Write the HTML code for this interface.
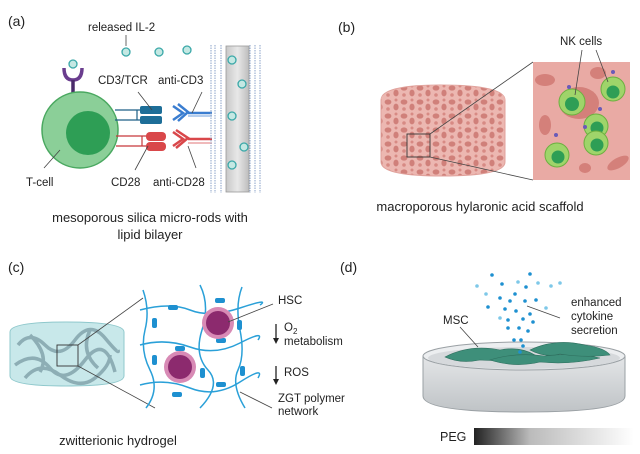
<!DOCTYPE html>
<html><head><style>
html,body{margin:0;padding:0;background:#fff}
svg{display:block}
text{font-family:"Liberation Sans",sans-serif;fill:#222}
</style></head><body>
<svg width="640" height="454" viewBox="0 0 640 454" xmlns="http://www.w3.org/2000/svg">
<defs>
<linearGradient id="peg" x1="0" x2="1"><stop offset="0" stop-color="#222"/><stop offset="0.35" stop-color="#bbb"/><stop offset="1" stop-color="#fff"/></linearGradient>
<linearGradient id="dish" x1="0" x2="0" y1="0" y2="1"><stop offset="0" stop-color="#e4e6e8"/><stop offset="1" stop-color="#bfc3c6"/></linearGradient>
<linearGradient id="rod" x1="0" x2="1"><stop offset="0" stop-color="#c8c8c8"/><stop offset="0.5" stop-color="#e8e8e8"/><stop offset="1" stop-color="#bdbdbd"/></linearGradient>
<pattern id="pores" width="16" height="14" patternUnits="userSpaceOnUse">
<rect width="16" height="14" fill="#ecb7b1"/>
<ellipse cx="4" cy="4" rx="3.4" ry="2.6" fill="#d0807a"/>
<ellipse cx="12" cy="9" rx="2.6" ry="3.4" fill="#d0807a"/>
<circle cx="4" cy="11" r="1.8" fill="#d78a84"/>
<circle cx="12" cy="2" r="1.5" fill="#d78a84"/>
</pattern>
</defs>

<!-- Panel a -->
<text x="8" y="26" font-size="14">(a)</text>
<text x="88" y="31" font-size="11.5">released IL-2</text>
<line x1="126" y1="35" x2="126" y2="46" stroke="#444" stroke-width="0.8"/>
<g fill="#c4e8e3" stroke="#3aa8a8" stroke-width="1.3">
<circle cx="126" cy="52" r="4"/><circle cx="159" cy="52" r="4"/><circle cx="187" cy="50" r="4"/>
<circle cx="73" cy="64" r="4"/>
</g>
<path d="M64 68 Q64 80 73 80 Q82 80 82 68" fill="none" stroke="#6a3d8e" stroke-width="3.5"/>
<line x1="73" y1="80" x2="73" y2="100" stroke="#4a2a6a" stroke-width="3.5"/>
<circle cx="80" cy="130" r="38" fill="#8bcf98" stroke="#4aa860" stroke-width="1.5"/>
<circle cx="88" cy="133" r="22" fill="#2e9e55"/>
<g stroke="#1d5f86" stroke-width="1.2" fill="none">
<line x1="115" y1="110" x2="140" y2="110"/><line x1="115" y1="120" x2="140" y2="120"/><line x1="137" y1="110" x2="137" y2="120"/>
</g>
<rect x="140" y="106" width="22" height="8" rx="2" fill="#1d6e98"/>
<rect x="140" y="116" width="22" height="8" rx="2" fill="#1d6e98"/>
<g stroke="#3a7dd0" stroke-width="2.5" fill="none">
<path d="M173 106 L183 113 L173 120"/><path d="M178 104 L188 112 L178 121"/>
<line x1="188" y1="113" x2="212" y2="113"/>
</g>
<line x1="188" y1="116" x2="212" y2="116" stroke="#3a7dd0" stroke-width="0.8"/>
<g stroke="#c8373a" stroke-width="1.2" fill="none">
<line x1="116" y1="136" x2="147" y2="136"/><line x1="116" y1="146" x2="147" y2="146"/><line x1="142" y1="136" x2="142" y2="146"/>
</g>
<rect x="146" y="132" width="20" height="9" rx="4" fill="#d9474a"/>
<rect x="146" y="142" width="20" height="9" rx="4" fill="#d9474a"/>
<g stroke="#d9474a" stroke-width="2.5" fill="none">
<path d="M173 132 L183 139 L173 146"/><path d="M176 130 L188 138 L176 148"/>
<line x1="188" y1="139" x2="212" y2="139"/>
</g>
<line x1="188" y1="143" x2="212" y2="143" stroke="#d9474a" stroke-width="0.8"/>
<g stroke="#8aa2c8" stroke-width="1" stroke-dasharray="1.5 1">
<line x1="211" y1="45" x2="211" y2="193"/><line x1="215" y1="45" x2="215" y2="193"/><line x1="221" y1="45" x2="221" y2="193"/>
<line x1="250" y1="45" x2="250" y2="193"/><line x1="255" y1="45" x2="255" y2="193"/><line x1="260" y1="45" x2="260" y2="193"/>
</g>
<rect x="226" y="46" width="23" height="146" fill="url(#rod)" stroke="#9a9a9a" stroke-width="0.8"/>
<g fill="#c4e8e3" stroke="#3aa8a8" stroke-width="1.3">
<circle cx="232" cy="60" r="4"/><circle cx="242" cy="84" r="4"/><circle cx="232" cy="116" r="4"/><circle cx="244" cy="147" r="4"/><circle cx="232" cy="165" r="4"/>
</g>
<g stroke="#444" stroke-width="0.8">
<line x1="138" y1="92" x2="152" y2="110"/><line x1="202" y1="92" x2="192" y2="113"/>
<line x1="60" y1="150" x2="44" y2="168"/><line x1="148" y1="146" x2="135" y2="170"/><line x1="188" y1="146" x2="196" y2="168"/>
</g>
<text x="98" y="84" font-size="11.5">CD3/TCR</text>
<text x="158" y="84" font-size="11.5">anti-CD3</text>
<text x="26" y="186" font-size="11.5">T-cell</text>
<text x="111" y="186" font-size="11.5">CD28</text>
<text x="153" y="186" font-size="11.5">anti-CD28</text>
<text x="150" y="222" font-size="13" text-anchor="middle">mesoporous silica micro-rods with</text>
<text x="150" y="239" font-size="13" text-anchor="middle">lipid bilayer</text>

<!-- Panel b -->
<text x="338" y="32" font-size="14">(b)</text>
<path d="M381 100 Q381 85 440 85 Q505 85 505 100 L505 162 Q505 176 442 176 Q381 176 381 162 Z" fill="url(#pores)" stroke="#e0a29c" stroke-width="1"/>
<ellipse cx="443" cy="99" rx="62" ry="14" fill="url(#pores)" opacity="0.9"/>
<rect x="407" y="134" width="23" height="23" fill="none" stroke="#333" stroke-width="0.9"/>
<line x1="430" y1="134" x2="533" y2="62" stroke="#444" stroke-width="0.8"/>
<line x1="430" y1="157" x2="533" y2="180" stroke="#444" stroke-width="0.8"/>
<rect x="533" y="62" width="97" height="118" fill="#e9aaa4"/>
<g fill="#d4807a">
<ellipse cx="545" cy="80" rx="10" ry="6"/><ellipse cx="598" cy="73" rx="8" ry="6"/><ellipse cx="545" cy="125" rx="6" ry="10"/>
<ellipse cx="618" cy="163" rx="12" ry="5" transform="rotate(-30 618 163)"/><ellipse cx="585" cy="168" rx="6" ry="5"/>
</g>
<g>
<ellipse cx="579" cy="103" rx="20" ry="16" fill="#d4807a"/>
<circle cx="572" cy="102" r="13" fill="#9fd46a" stroke="#6cb040" stroke-width="1"/><circle cx="572" cy="104" r="7" fill="#2e9e55"/>
<circle cx="613" cy="89" r="12" fill="#9fd46a" stroke="#6cb040"/><circle cx="613" cy="92" r="6.5" fill="#2e9e55"/>
<circle cx="596" cy="126" r="12" fill="#9fd46a" stroke="#6cb040"/><circle cx="597" cy="128" r="6.5" fill="#2e9e55"/>
<circle cx="596" cy="143" r="12" fill="#9fd46a" stroke="#6cb040"/><circle cx="597" cy="145" r="6.5" fill="#2e9e55"/>
<circle cx="557" cy="155" r="12" fill="#9fd46a" stroke="#6cb040"/><circle cx="558" cy="157" r="6.5" fill="#2e9e55"/>
</g>
<g fill="#6a5ab8"><circle cx="569" cy="87" r="2"/><circle cx="613" cy="72" r="2"/><circle cx="600" cy="109" r="2"/><circle cx="585" cy="127" r="2"/><circle cx="556" cy="135" r="2"/></g>
<g stroke="#444" stroke-width="0.8">
<line x1="582" y1="50" x2="575" y2="95"/><line x1="596" y1="50" x2="608" y2="82"/>
</g>
<text x="560" y="45" font-size="11.5">NK cells</text>
<text x="480" y="211" font-size="13" text-anchor="middle">macroporous hylaronic acid scaffold</text>

<!-- Panel c -->
<text x="8" y="272" font-size="14">(c)</text>
<path d="M10 332 Q10 322 66 322 Q124 322 124 332 L124 376 Q124 386 66 386 Q10 386 10 376 Z" fill="#c8e8ea" stroke="#8fc8cc" stroke-width="1"/>
<g fill="none" stroke="#7fa0a8" stroke-width="3.5" opacity="0.8">
<path d="M18 345 Q30 330 45 345 T75 340 T105 338 T118 350"/>
<path d="M15 365 Q35 350 50 368 T85 360 T115 372"/>
<path d="M25 378 Q40 360 60 375 T95 378 T110 355"/>
<path d="M30 335 Q50 355 40 372"/><path d="M90 330 Q80 352 98 368"/>
</g>
<rect x="57" y="345" width="21" height="21" fill="none" stroke="#333" stroke-width="0.9"/>
<line x1="78" y1="345" x2="143" y2="298" stroke="#444" stroke-width="0.8"/>
<line x1="78" y1="366" x2="155" y2="408" stroke="#444" stroke-width="0.8"/>
<g fill="none" stroke="#2aa0d8" stroke-width="1.5">
<path d="M140 310 Q170 302 190 310 T240 308 T260 305"/>
<path d="M140 345 Q165 338 190 347 T240 343 T258 340"/>
<path d="M140 385 Q165 378 190 388 T240 382 T258 378"/>
<path d="M143 290 Q150 310 145 330 T150 370 T146 408"/>
<path d="M200 285 Q210 305 202 330 T208 370 T200 408"/>
<path d="M242 287 Q235 305 240 330 T238 370 T245 408"/>
</g>
<g fill="#1e90d0">
<rect x="168" y="305" width="10" height="5" rx="2"/><rect x="215" y="298" width="10" height="5" rx="2"/>
<rect x="152" y="318" width="5" height="10" rx="2"/><rect x="237" y="320" width="5" height="10" rx="2"/>
<rect x="175" y="346" width="10" height="5" rx="2"/><rect x="216" y="338" width="10" height="5" rx="2"/>
<rect x="200" y="368" width="5" height="10" rx="2"/><rect x="240" y="366" width="5" height="10" rx="2"/>
<rect x="172" y="392" width="10" height="5" rx="2"/><rect x="216" y="382" width="10" height="5" rx="2"/>
<rect x="152" y="355" width="5" height="10" rx="2"/>
</g>
<circle cx="218" cy="323" r="16" fill="#d88ab5"/><circle cx="218" cy="323" r="12" fill="#8c2a6e"/>
<circle cx="180" cy="367" r="16" fill="#d88ab5"/><circle cx="180" cy="367" r="12" fill="#8c2a6e"/>
<line x1="228" y1="322" x2="273" y2="304" stroke="#444" stroke-width="0.8"/>
<line x1="240" y1="392" x2="272" y2="408" stroke="#444" stroke-width="0.8"/>
<text x="278" y="304" font-size="11.5">HSC</text>
<line x1="276" y1="324" x2="276" y2="340" stroke="#222" stroke-width="1.3"/><path d="M273 338 L279 338 L276 344 Z" fill="#222"/>
<text x="284" y="331" font-size="11.5">O<tspan font-size="8" dy="3">2</tspan></text>
<text x="284" y="345" font-size="11.5">metabolism</text>
<line x1="276" y1="366" x2="276" y2="381" stroke="#222" stroke-width="1.3"/><path d="M273 379 L279 379 L276 385 Z" fill="#222"/>
<text x="284" y="376" font-size="11.5">ROS</text>
<text x="278" y="402" font-size="11.5">ZGT polymer</text>
<text x="278" y="415" font-size="11.5">network</text>
<text x="118" y="445" font-size="13" text-anchor="middle">zwitterionic hydrogel</text>

<!-- Panel d -->
<text x="340" y="272" font-size="14">(d)</text>
<path d="M423 356 L423 396 Q423 412 524 412 Q625 412 625 396 L625 356 Z" fill="url(#dish)" stroke="#9aa0a4" stroke-width="1"/>
<ellipse cx="524" cy="356" rx="101" ry="14" fill="#eceef0" stroke="#9aa0a4" stroke-width="1"/>
<ellipse cx="524" cy="358" rx="96" ry="11" fill="#d6d9dc"/>
<g fill="#3e8f7a" stroke="#2e6f5e" stroke-width="0.6">
<path d="M445 357 Q470 344 500 350 Q520 346 535 355 Q510 362 480 360 Q460 364 445 357 Z"/>
<path d="M490 360 Q515 352 545 356 Q575 352 600 358 Q570 365 540 362 Q515 368 490 360 Z"/>
<path d="M530 350 Q555 338 585 345 Q605 348 610 355 Q585 358 560 354 Q545 358 530 350 Z"/>
</g>
<g fill="#1e90d0">
<circle cx="492" cy="275" r="1.8"/><circle cx="530" cy="274" r="1.8"/><circle cx="502" cy="284" r="1.8"/><circle cx="526" cy="287" r="1.8"/>
<circle cx="515" cy="294" r="1.8"/><circle cx="500" cy="298" r="1.8"/><circle cx="510" cy="301" r="1.8"/><circle cx="525" cy="301" r="1.8"/><circle cx="536" cy="300" r="1.8"/>
<circle cx="488" cy="307" r="1.8"/><circle cx="505" cy="309" r="1.8"/><circle cx="516" cy="311" r="1.8"/><circle cx="530" cy="314" r="1.8"/>
<circle cx="508" cy="320" r="1.8"/><circle cx="523" cy="319" r="1.8"/><circle cx="533" cy="322" r="1.8"/>
<circle cx="508" cy="328" r="1.8"/><circle cx="519" cy="328" r="1.8"/><circle cx="528" cy="331" r="1.8"/>
<circle cx="514" cy="340" r="1.8"/><circle cx="521" cy="340" r="1.8"/><circle cx="523" cy="346" r="1.8"/><circle cx="520" cy="352" r="1.8"/>
</g>
<g fill="#7ec8e8">
<circle cx="477" cy="286" r="1.8"/><circle cx="518" cy="282" r="1.8"/><circle cx="538" cy="283" r="1.8"/><circle cx="551" cy="286" r="1.8"/><circle cx="560" cy="283" r="1.8"/>
<circle cx="486" cy="294" r="1.8"/><circle cx="546" cy="308" r="1.8"/><circle cx="500" cy="318" r="1.8"/>
</g>
<line x1="527" y1="306" x2="560" y2="318" stroke="#444" stroke-width="0.8"/>
<line x1="460" y1="327" x2="478" y2="347" stroke="#444" stroke-width="0.8"/>
<text x="443" y="324" font-size="11.5">MSC</text>
<text x="571" y="306" font-size="11.5">enhanced</text>
<text x="571" y="320" font-size="11.5">cytokine</text>
<text x="571" y="334" font-size="11.5">secretion</text>
<text x="440" y="441" font-size="12.5">PEG</text>
<rect x="474" y="428" width="160" height="17" fill="url(#peg)"/>
</svg>
</body></html>
